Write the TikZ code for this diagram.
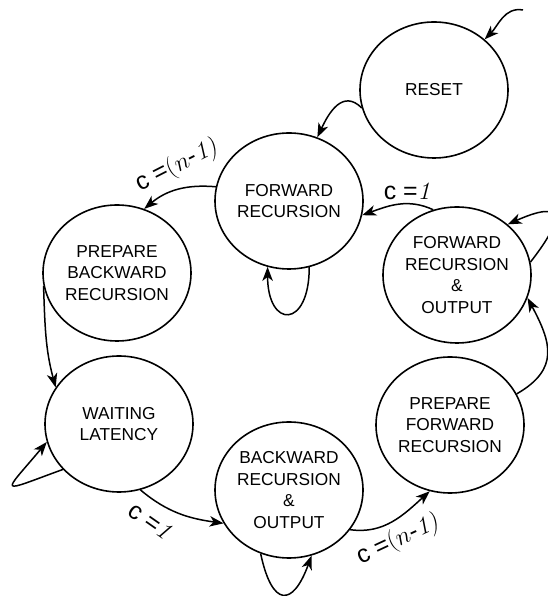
\documentclass[tikz,border=0pt]{standalone}
\usepackage{fontspec}
\setmainfont{Liberation Sans}
\usetikzlibrary{arrows.meta,shapes.geometric}

% Latin Modern for the serif parts of the transition conditions
\newcommand{\cmtext}[1]{{\fontfamily{lmr}\selectfont #1}}

\tikzset{
  fsmstate/.style={ellipse, draw, line width=1.6pt, minimum width=148pt,
    minimum height=136pt, inner sep=0pt, align=center,
    font=\fontsize{17.3}{21.7}\selectfont},
  trans/.style={line width=1.5pt,
    -{Stealth[length=14pt,width=10.5pt,inset=4pt]}},
  cond/.style={font=\fontsize{24.88}{28}\selectfont, inner sep=0pt}
}

\begin{document}
\begin{tikzpicture}[x=1pt,y=1pt]
\useasboundingbox (0,0) rectangle (547,596);

% states
\node[fsmstate] (reset) at (434,506) {RESET};
\node[fsmstate] (fr)    at (289,395) {FORWARD\\RECURSION};
\node[fsmstate] (pb)    at (117,323) {PREPARE\\BACKWARD\\RECURSION};
\node[fsmstate] (fro)   at (457,321) {FORWARD\\RECURSION\\\&\\OUTPUT};
\node[fsmstate] (wl)    at (119,172) {WAITING\\LATENCY};
\node[fsmstate] (bro)   at (289,106) {BACKWARD\\RECURSION\\\&\\OUTPUT};
\node[fsmstate] (pf)    at (450,171) {PREPARE\\FORWARD\\RECURSION};
\coordinate (init) at (523,586);

% transitions
\draw[trans] (init) to[out=170,in=45] (reset.45);
\draw[trans] (reset.194) to[out=135,in=65,looseness=1.3] (fr.66);
\draw[trans] (fr.169) to[out=175,in=40] (pb.67);
\draw[trans] (fro.110) to[out=155,in=20] (fr.349);
\draw[trans] (fr.287) .. controls +(-90:62) and +(-90:62) .. (fr.252);
\draw[trans] (pb.190) to[out=-88,in=105] (wl.150);
\draw[trans] (wl.219) .. controls +(200:70) and +(230:70) .. (wl.194);
\draw[trans] (wl.288) to[out=-40,in=172] (bro.207);
\draw[trans] (bro.246) .. controls +(-78:55) and +(-110:55) .. (bro.289);
\draw[trans] (bro.327) to[out=-8,in=222] (pf.253);
\draw[trans] (pf.25) .. controls +(30:50) and +(-62:50) .. (fro.342);
\draw[trans] (fro.10) .. controls +(52:60) and +(24:60) .. (fro.45);

% conditions
\node[cond, rotate=27]  (c1) at (177,430) {c =\cmtext{(}$n$-\cmtext{\itshape 1)}};
\node[cond]             (c2) at (407,405) {c =\cmtext{\itshape 1}};
\node[cond, rotate=-35] (c3) at (150,75)  {c =\cmtext{\itshape 1}};
\node[cond, rotate=25]  (c4) at (398,56)  {c =\cmtext{(}$n$-\cmtext{\itshape 1)}};
\end{tikzpicture}
\end{document}
